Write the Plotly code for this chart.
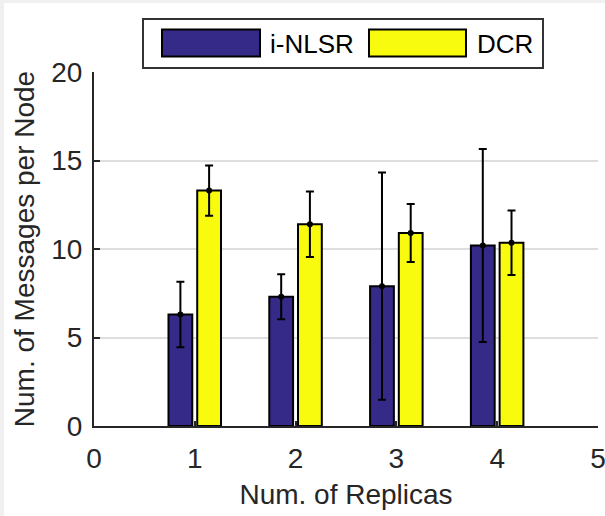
import plotly.graph_objects as go

# ---- data ----
replicas = [1, 2, 3, 4]
series_names = ["i-NLSR", "DCR"]
inlsr_mean = [6.3, 7.3, 7.9, 10.2]
inlsr_err = [1.85, 1.27, 6.42, 5.45]
dcr_mean = [13.3, 11.4, 10.9, 10.35]
dcr_err = [1.42, 1.85, 1.64, 1.82]
x_ticks = [0, 1, 2, 3, 4, 5]
y_ticks = [0, 5, 10, 15, 20]

colors = ["#352a87", "#f9fb0e"]
offsets = [-0.143, 0.142]
bar_w = 0.236

W, H = 605, 516
L, R, T, B = 94, 7, 72, 90
pw, ph = W - L - R, H - T - B

def px_x(p):
    return (p - L) / pw

def px_y(p):
    return (H - B - p) / ph

FONT = "Liberation Sans, Arial, Helvetica, sans-serif"
TXT = "#262626"

fig = go.Figure()
for name, means, errs, col, off in zip(series_names, [inlsr_mean, dcr_mean],
                                       [inlsr_err, dcr_err], colors, offsets):
    xs = [r + off for r in replicas]
    fig.add_trace(go.Bar(x=xs, y=means, width=bar_w, name=name,
                         marker=dict(color=col, line=dict(color="black", width=2)),
                         showlegend=False))
    fig.add_trace(go.Scatter(x=xs, y=means, mode="markers",
                             marker=dict(color="black", size=6),
                             error_y=dict(type="data", array=errs, visible=True,
                                          color="black", thickness=2, width=4),
                             showlegend=False))

shapes = []
# light gray page border strips
shapes.append(dict(type="rect", xref="paper", yref="paper", x0=px_x(0), x1=px_x(4),
                   y0=px_y(H), y1=px_y(0), fillcolor="#f0f0f0", line=dict(width=0), layer="below"))
shapes.append(dict(type="rect", xref="paper", yref="paper", x0=px_x(0), x1=px_x(W),
                   y0=px_y(3), y1=px_y(0), fillcolor="#f0f0f0", line=dict(width=0), layer="below"))
# custom legend box
shapes.append(dict(type="rect", xref="paper", yref="paper", x0=px_x(143), x1=px_x(543),
                   y0=px_y(68), y1=px_y(19), fillcolor="white", line=dict(color="#333333", width=2)))
patches = [(162, 260), (369, 466)]
annotations = []
text_x = [268, 475]
for (a, b), col, name, tx in zip(patches, colors, series_names, text_x):
    shapes.append(dict(type="rect", xref="paper", yref="paper", x0=px_x(a), x1=px_x(b),
                       y0=px_y(56.5), y1=px_y(29.5), fillcolor=col, line=dict(color="black", width=2)))
    annotations.append(dict(xref="paper", yref="paper", x=px_x(tx), y=px_y(44),
                            xanchor="left", yanchor="middle", text=name, showarrow=False,
                            font=dict(family=FONT, size=26, color="black")))

fig.update_layout(
    width=W, height=H,
    margin=dict(l=L, r=R, t=T, b=B, autoexpand=False),
    paper_bgcolor="white", plot_bgcolor="white",
    barmode="overlay",
    font=dict(family=FONT, color=TXT),
    shapes=shapes, annotations=annotations,
    showlegend=False,
)
fig.update_xaxes(range=[0, 5], tickvals=x_ticks, ticktext=[str(v) for v in x_ticks],
                 showline=True, linecolor=TXT, linewidth=2, ticks="inside", ticklen=5,
                 tickcolor=TXT, tickwidth=1.5, showgrid=False, zeroline=False,
                 tickfont=dict(size=28, color=TXT), ticklabelstandoff=6,
                 ticklabeloverflow="allow",
                 title=dict(text="Num. of Replicas", font=dict(size=28, color=TXT), standoff=12),
                 automargin=False)
fig.update_yaxes(range=[0, 20], tickvals=y_ticks, ticktext=[str(v) for v in y_ticks],
                 showline=True, linecolor=TXT, linewidth=2, ticks="inside", ticklen=6,
                 tickcolor=TXT, tickwidth=1.5, showgrid=True, gridcolor="#dedede", gridwidth=1.5,
                 zeroline=False, tickfont=dict(size=28, color=TXT), ticklabelstandoff=4,
                 ticklabeloverflow="allow",
                 title=dict(text="Num. of Messages per Node", font=dict(size=28, color=TXT), standoff=8),
                 automargin=False)

fig.write_html("out.html")
